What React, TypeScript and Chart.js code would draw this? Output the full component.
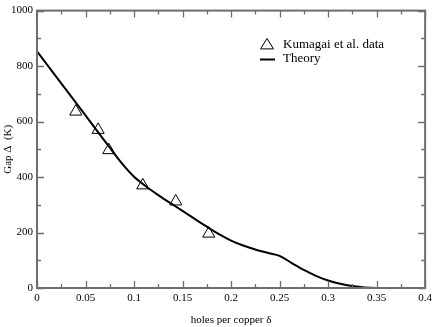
import React, { useEffect, useRef } from "react";
import { Chart, registerables } from "chart.js";

Chart.register(...registerables);

const dataX = [0.04, 0.063, 0.074, 0.109, 0.143, 0.177];
const dataY = [636, 570, 497, 370, 312, 196];

const theoryX = [0, 0.05, 0.075, 0.0875, 0.1, 0.1125, 0.125, 0.1375, 0.15, 0.1625, 0.175, 0.1875, 0.2, 0.2125, 0.225, 0.2375, 0.25, 0.2625, 0.275, 0.2875, 0.3, 0.3125, 0.325, 0.3375, 0.35, 0.38];
const theoryY = [853, 622, 506, 449, 401, 366, 335, 306, 278, 249, 221, 194, 171, 153, 139, 127, 116, 90, 65, 44, 27, 15, 7, 2, 0, 0];

const xTicks = [0, 0.05, 0.1, 0.15, 0.2, 0.25, 0.3, 0.35, 0.4];
const yTicks = [0, 200, 400, 600, 800, 1000];

const legendLabels = ["Kumagai et al. data", "Theory"];

const FONT = "'Liberation Serif', 'DejaVu Serif', serif";
const FRAME = "#6e6e6e";

const framePlugin = {
  id: "frameTicks",
  afterDraw(chart: any) {
    const { ctx, chartArea: a, scales } = chart;
    const xs = scales.x;
    const ys = scales.y;
    ctx.save();
    ctx.strokeStyle = FRAME;
    ctx.lineWidth = 2;
    ctx.strokeRect(a.left, a.top, a.right - a.left, a.bottom - a.top);
    ctx.lineWidth = 1.3;
    ctx.beginPath();
    for (let i = 0; i <= 16; i++) {
      const v = i * 0.025;
      const px = Math.round(xs.getPixelForValue(v)) + 0.5;
      const len = i % 2 === 0 ? 7 : 4;
      ctx.moveTo(px, a.bottom);
      ctx.lineTo(px, a.bottom - len);
      ctx.moveTo(px, a.top);
      ctx.lineTo(px, a.top + len);
    }
    for (let i = 0; i <= 10; i++) {
      const v = i * 100;
      const py = Math.round(ys.getPixelForValue(v)) + 0.5;
      const len = i % 2 === 0 ? 7 : 4;
      ctx.moveTo(a.left, py);
      ctx.lineTo(a.left + len, py);
      ctx.moveTo(a.right, py);
      ctx.lineTo(a.right - len, py);
    }
    ctx.stroke();

    // legend
    ctx.strokeStyle = "#000";
    ctx.lineWidth = 1;
    const tx = 267, ty = 45, r = 6.5;
    ctx.beginPath();
    ctx.moveTo(tx, ty - r);
    ctx.lineTo(tx + r, ty + r * 0.6);
    ctx.lineTo(tx - r, ty + r * 0.6);
    ctx.closePath();
    ctx.stroke();
    ctx.lineWidth = 2;
    ctx.beginPath();
    ctx.moveTo(260, 59.5);
    ctx.lineTo(275, 59.5);
    ctx.stroke();
    ctx.fillStyle = "#000";
    ctx.font = `13px ${FONT}`;
    ctx.textBaseline = "middle";
    ctx.textAlign = "left";
    ctx.fillText(legendLabels[0], 283, 45);
    ctx.fillText(legendLabels[1], 283, 59);
    ctx.restore();
  },
};

export default function App() {
  const ref = useRef<HTMLCanvasElement | null>(null);
  useEffect(() => {
    document.body.style.margin = "0";
    const chart = new Chart(ref.current as HTMLCanvasElement, {
      type: "scatter",
      data: {
        datasets: [
          {
            label: legendLabels[1],
            type: "line",
            data: theoryX.map((x, i) => ({ x, y: theoryY[i] })),
            borderColor: "#000",
            borderWidth: 2,
            pointRadius: 0,
            fill: false,
            tension: 0.3,
          } as any,
          {
            label: legendLabels[0],
            data: dataX.map((x, i) => ({ x, y: dataY[i] })),
            pointStyle: "triangle",
            pointRadius: 7,
            borderColor: "#000",
            borderWidth: 1,
            backgroundColor: "rgba(0,0,0,0)",
          },
        ],
      },
      plugins: [framePlugin],
      options: {
        animation: false,
        responsive: false,
        layout: { padding: { top: 5, right: 7, left: 0, bottom: 0 } },
        plugins: { legend: { display: false }, tooltip: { enabled: false } },
        scales: {
          x: {
            type: "linear",
            min: 0,
            max: 0.4,
            afterFit: (s: any) => { s.height = 39; },
            afterBuildTicks: (s: any) => { s.ticks = xTicks.map((v) => ({ value: v })); },
            grid: { display: false, drawTicks: false },
            border: { display: false },
            ticks: {
              padding: 4,
              color: "#000",
              font: { family: FONT, size: 11 },
              callback: (v: any) => String(+Number(v).toFixed(2)),
            },
            title: {
              display: true,
              text: "holes per copper δ",
              color: "#000",
              font: { family: FONT, size: 11 },
              padding: { top: 10, bottom: 0 },
            },
          },
          y: {
            type: "linear",
            min: 0,
            max: 1000,
            afterFit: (s: any) => { s.width = 37; },
            afterBuildTicks: (s: any) => { s.ticks = yTicks.map((v) => ({ value: v })); },
            grid: { display: false, drawTicks: false },
            border: { display: false },
            ticks: {
              padding: 4,
              color: "#000",
              font: { family: FONT, size: 11 },
              callback: (v: any) => String(v),
            },
            title: {
              display: true,
              text: "Gap Δ  (K)",
              color: "#000",
              font: { family: FONT, size: 11 },
              padding: { top: 2, bottom: 0 },
            },
          },
        },
      },
    } as any);
    return () => chart.destroy();
  }, []);
  return (
    <div style={{ position: "absolute", left: 0, top: 0, width: 436, height: 327 }}>
      <canvas ref={ref} width={436} height={327} style={{ width: 436, height: 327 }} />
    </div>
  );
}
